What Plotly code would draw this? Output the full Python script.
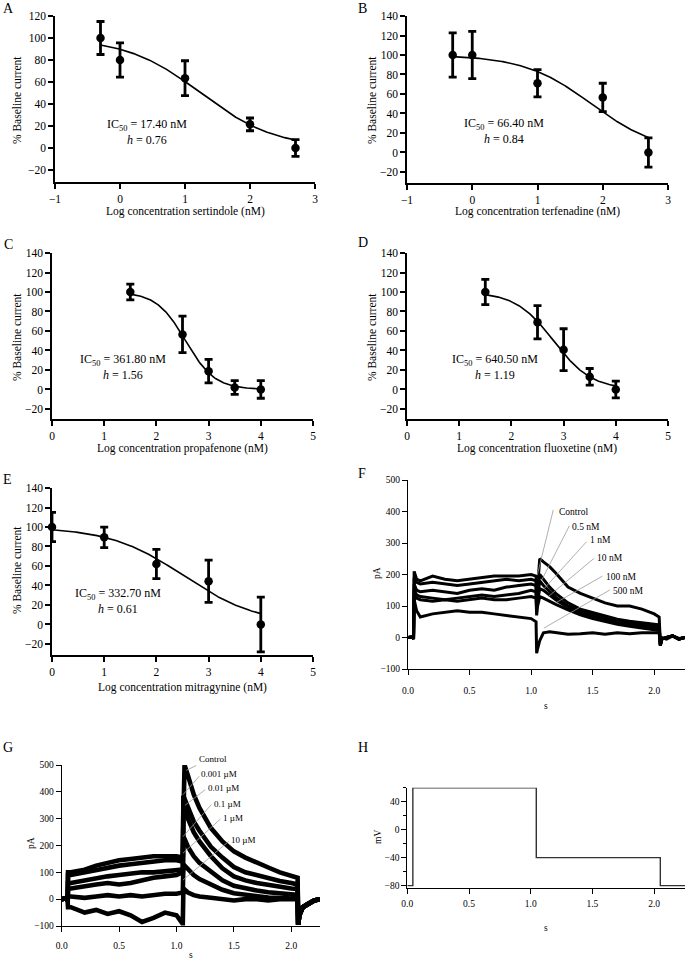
import numpy as np
import plotly.graph_objects as go

W, H = 685, 962

# ---------------- Dose-response data ----------------
A_x = [-0.3, 0, 1, 2, 2.7]
A_y = [100, 80, 63.5, 21.5, 0]
A_err = [15, 15.6, 15.8, 5.8, 7.6]
A_ic50, A_h = 17.40, 0.76

B_x = [-0.3, 0, 1, 2, 2.7]
B_y = [100, 100, 71, 56.5, 0]
B_err = [22.7, 24.2, 14, 14.5, 15]
B_ic50, B_h = 66.40, 0.84

C_x = [1.5, 2.5, 3, 3.5, 4]
C_y = [100, 56.5, 18.8, 2, 0]
C_err = [8, 18.7, 12, 7, 9]
C_ic50, C_h = 361.80, 1.56

D_x = [1.5, 2.5, 3, 3.5, 4]
D_y = [100, 69, 40.8, 13, 0]
D_err = [13, 17, 21.5, 8.5, 8.6]
D_ic50, D_h = 640.50, 1.19

E_x = [0, 1, 2, 3, 4]
E_y = [100, 89.4, 62, 44.4, 0]
E_err = [15, 10.5, 15, 21.7, 28]
E_ic50, E_h = 332.70, 0.61

drugs = ["sertindole", "terfenadine", "propafenone", "fluoxetine", "mitragynine"]

# ---------------- hERG current traces (F) ----------------
F_t = [0.0, 0.04, 0.045, 0.05, 0.07, 0.1, 0.2, 0.3, 0.4, 0.5, 0.6, 0.7, 0.8, 0.9, 1.0, 1.04,
       1.045, 1.05, 1.07, 1.1, 1.15, 1.2, 1.3, 1.4, 1.5, 1.6, 1.7, 1.8, 1.9, 2.0, 2.04,
       2.05, 2.06, 2.1, 2.15, 2.2, 2.25]
F_labels = ["Control", "0.5 nM", "1 nM", "10 nM", "100 nM", "500 nM"]
F_control = [0, 2, -5, 210, 185, 180, 195, 185, 180, 185, 190, 195, 195, 195, 200, 195,
             120, 150, 250, 240, 225, 205, 160, 140, 125, 110, 100, 100, 90, 75, 65,
             -20, 0, -5, 5, -3, 0]
F_05 = [0, 2, -5, 190, 175, 170, 175, 170, 165, 170, 175, 180, 185, 180, 185, 180,
        100, 130, 200, 185, 160, 140, 110, 90, 80, 68, 58, 52, 48, 42, 40,
        -25, -5, 0, 5, -5, 0]
F_1 = [0, 2, -5, 170, 150, 145, 150, 145, 140, 150, 155, 150, 160, 165, 170, 165,
       90, 120, 180, 165, 145, 128, 100, 85, 72, 62, 55, 48, 42, 38, 35,
       -25, -5, 0, 5, -5, 0]
F_10 = [0, 2, -5, 150, 135, 130, 125, 120, 125, 130, 135, 130, 135, 140, 150, 145,
        80, 110, 155, 150, 135, 120, 95, 78, 65, 55, 48, 42, 36, 30, 28,
        -25, -5, 0, 5, -5, 0]
F_100 = [0, 2, -5, 130, 125, 120, 115, 120, 115, 120, 125, 120, 120, 125, 130, 125,
         70, 95, 130, 125, 115, 105, 88, 72, 60, 50, 42, 36, 30, 25, 22,
         -25, -5, 0, 5, -5, 0]
F_500 = [0, 2, -5, 120, 85, 65, 75, 80, 85, 80, 80, 75, 70, 65, 60, 50,
         -50, -40, -10, 15, 18, 15, 10, 12, 15, 10, 15, 12, 15, 15, 15,
         -25, -5, 0, 5, -5, 0]
F_series = [F_control, F_05, F_1, F_10, F_100, F_500]

# ---------------- hERG current traces (G) ----------------
G_t = [0.0, 0.05, 0.052, 0.055, 0.08, 0.2, 0.3, 0.4, 0.5, 0.6, 0.7, 0.8, 0.9, 1.0, 1.05,
       1.055, 1.06, 1.07, 1.1, 1.15, 1.2, 1.3, 1.4, 1.5, 1.6, 1.7, 1.8, 1.9, 2.0, 2.055,
       2.06, 2.07, 2.1, 2.15, 2.2, 2.25]
G_labels = ["Control", "0.001 µM", "0.01 µM", "0.1 µM", "1 µM", "10 µM"]
G_control = [0, 5, -10, 100, 100, 110, 125, 135, 145, 150, 155, 160, 160, 160, 155,
             160, 300, 500, 460, 390, 340, 265, 215, 178, 155, 135, 118, 100, 88, 80,
             -95, -60, -30, -15, -5, 0]
G_0001 = [0, 5, -10, 90, 90, 100, 110, 120, 125, 130, 135, 140, 145, 145, 140,
          140, 385, 375, 340, 290, 255, 195, 155, 120, 100, 88, 78, 68, 60, 55,
          -95, -60, -30, -15, -5, 0]
G_001 = [0, 5, -10, 60, 60, 70, 80, 85, 90, 95, 100, 100, 105, 110, 110,
         110, 365, 350, 300, 250, 215, 160, 115, 85, 70, 60, 52, 45, 40, 38,
         -95, -60, -30, -15, -5, 0]
G_01 = [0, 5, -10, 40, 40, 50, 55, 60, 55, 60, 70, 80, 85, 90, 100,
        100, 230, 225, 195, 160, 135, 100, 70, 50, 40, 32, 26, 22, 18, 16,
        -95, -60, -30, -15, -5, 0]
G_1 = [0, 5, -10, 10, 10, 5, 10, 15, 10, 15, 10, 15, 20, 20, 25,
       25, 130, 125, 110, 90, 75, 55, 35, 22, 16, 10, 6, 4, 2, 2,
       -95, -60, -30, -15, -5, 0]
G_10 = [0, 5, -10, -30, -30, -50, -40, -55, -45, -60, -85, -70, -50, -60, -90,
        -90, 40, 35, 25, 15, 10, 5, 0, -5, 0, 0, -5, 0, 0, 0,
        -95, -60, -30, -15, -5, 0]
G_series = [G_control, G_0001, G_001, G_01, G_1, G_10]

# ---------------- Voltage protocol (H) ----------------
H_t = [0.0, 0.045, 1.045, 2.05, 2.25]
H_mv = [-80, 60, -40, -80, -80]

SERIF = "Liberation Serif, Times New Roman, serif"


def px_x(p):
    return p / W


def px_y(p):
    return 1 - p / H


def dom_x(a, b):
    return [px_x(a), px_x(b)]


def dom_y(top, bottom):
    return [px_y(bottom), px_y(top)]


fig = go.Figure()

# ---- dose-response panels ----
dr = [
    ("", A_x, A_y, A_err, A_ic50, A_h),
    ("2", B_x, B_y, B_err, B_ic50, B_h),
    ("3", C_x, C_y, C_err, C_ic50, C_h),
    ("4", D_x, D_y, D_err, D_ic50, D_h),
    ("5", E_x, E_y, E_err, E_ic50, E_h),
]
for suf, xs, ys, es, ic50, h in dr:
    xa, ya = "x" + suf, "y" + suf
    xc = np.linspace(min(xs), max(xs), 200)
    yc = 100.0 / (1.0 + 10 ** ((xc - np.log10(ic50)) * h))
    fig.add_trace(go.Scatter(x=xc, y=yc, mode="lines", xaxis=xa, yaxis=ya,
                             line=dict(color="black", width=1.6), showlegend=False,
                             hoverinfo="skip"))
    fig.add_trace(go.Scatter(x=xs, y=ys, mode="markers", xaxis=xa, yaxis=ya,
                             marker=dict(color="black", size=8.5),
                             error_y=dict(type="data", array=es, color="black",
                                          thickness=2.8, width=4),
                             cliponaxis=False, showlegend=False))

# ---- current traces F ----
for vals in F_series:
    fig.add_trace(go.Scatter(x=F_t, y=vals, mode="lines", xaxis="x6", yaxis="y6",
                             line=dict(color="black", width=3), showlegend=False))
# ---- current traces G ----
for vals in G_series:
    fig.add_trace(go.Scatter(x=G_t, y=vals, mode="lines", xaxis="x7", yaxis="y7",
                             line=dict(color="black", width=4.6), showlegend=False))
# ---- voltage protocol H ----
fig.add_trace(go.Scatter(x=H_t, y=H_mv, mode="lines", xaxis="x8", yaxis="y8",
                         line=dict(color="#333333", width=1.4, shape="hv"),
                         showlegend=False))

tickfont = dict(family=SERIF, size=11.5, color="black")
smallfont = dict(family=SERIF, size=9.5, color="black")


def dr_axes(xd, yd, xr, yr, xtv, ytv):
    xa = dict(domain=xd, range=xr, tickvals=xtv, showline=True, linecolor="black",
              linewidth=1.6, ticks="outside", ticklen=5, tickwidth=1.6,
              tickcolor="black", showgrid=False, zeroline=False, tickfont=tickfont,
              fixedrange=True, automargin=False)
    ya = dict(domain=yd, range=yr, tickvals=ytv, showline=True, linecolor="black",
              linewidth=1.6, ticks="outside", ticklen=5, tickwidth=1.6,
              tickcolor="black", showgrid=False, zeroline=False, tickfont=tickfont,
              fixedrange=True, automargin=False)
    return xa, ya


def tr_axes(xd, yd, yr, ytv, xstand):
    xa = dict(domain=xd, range=[0, 2.25], tickvals=[0, 0.5, 1, 1.5, 2],
              tickformat=".1f", showline=True, linecolor="black", linewidth=1,
              ticks="outside", ticklen=5, tickwidth=1, tickcolor="black",
              showgrid=False, zeroline=False, tickfont=smallfont,
              ticklabelstandoff=xstand, fixedrange=True, automargin=False)
    ya = dict(domain=yd, range=yr, tickvals=ytv, showline=True, linecolor="black",
              linewidth=1, ticks="outside", ticklen=5, tickwidth=1,
              tickcolor="black", showgrid=False, zeroline=False, tickfont=smallfont,
              fixedrange=True, automargin=False)
    return xa, ya


yt120 = list(range(-20, 121, 20))
yt140 = list(range(-20, 141, 20))
axes = {}
axes["xaxis"], axes["yaxis"] = dr_axes(dom_x(55, 315), dom_y(16, 182), [-1, 3],
                                       [-30.9, 120], [-1, 0, 1, 2, 3], yt120)
axes["xaxis2"], axes["yaxis2"] = dr_axes(dom_x(407, 668), dom_y(16, 183), [-1, 3],
                                         [-31.3, 140], [-1, 0, 1, 2, 3], yt140)
axes["xaxis3"], axes["yaxis3"] = dr_axes(dom_x(52, 313), dom_y(253, 419), [0, 5],
                                         [-30.3, 140], [0, 1, 2, 3, 4, 5], yt140)
axes["xaxis4"], axes["yaxis4"] = dr_axes(dom_x(407, 668), dom_y(253, 419), [0, 5],
                                         [-30.3, 140], [0, 1, 2, 3, 4, 5], yt140)
axes["xaxis5"], axes["yaxis5"] = dr_axes(dom_x(52, 313), dom_y(488, 655), [0, 5],
                                         [-31.3, 140], [0, 1, 2, 3, 4, 5], yt140)
ytF = list(range(-100, 501, 100))
axes["xaxis6"], axes["yaxis6"] = tr_axes(dom_x(408, 685), dom_y(480, 669), [-100, 500], ytF, 8)
axes["xaxis7"], axes["yaxis7"] = tr_axes(dom_x(61.7, 320), dom_y(765, 926), [-100, 500], ytF, 6)
axes["xaxis8"], axes["yaxis8"] = tr_axes(dom_x(407.3, 685), dom_y(787.7, 887.7), [-83, 60],
                                         [-80, -40, 0, 40], 2)
axes["yaxis8"]["minor"] = dict(tickvals=[-60, -20, 20, 60], ticks="outside", ticklen=3,
                               tickwidth=1, tickcolor="black")
for i in range(2, 9):
    axes["xaxis%d" % i]["anchor"] = "y%d" % i
    axes["yaxis%d" % i]["anchor"] = "x%d" % i
axes["xaxis"]["anchor"] = "y"
axes["yaxis"]["anchor"] = "x"

ann = []


def text_px(x, y, text, size=11.5, angle=0, xanchor="center"):
    ann.append(dict(x=px_x(x), y=px_y(y), xref="paper", yref="paper", text=text,
                    showarrow=False, xanchor=xanchor, yanchor="middle", textangle=angle,
                    font=dict(family=SERIF, size=size, color="black")))


# panel letters
for L, x, y in [("A", 1, 8), ("B", 356, 8), ("C", 2, 244), ("D", 356, 243),
                ("E", 1, 479), ("F", 356, 473), ("G", 1, 747), ("H", 356, 747)]:
    text_px(x, y, L, size=14, xanchor="left")

# x-axis titles
text_px(185, 211, "Log concentration " + drugs[0] + " (nM)")
text_px(537, 211, "Log concentration " + drugs[1] + " (nM)")
text_px(182, 448, "Log concentration " + drugs[2] + " (nM)")
text_px(537, 448, "Log concentration " + drugs[3] + " (nM)")
text_px(182, 687, "Log concentration " + drugs[4] + " (nM)")
# y-axis titles
for x, y in [(17, 100), (372, 100), (17, 337), (372, 337), (17, 570)]:
    text_px(x, y, "% Baseline current", angle=-90)
text_px(377, 573, "pA", size=9.5, angle=-90)
text_px(31, 843, "pA", size=9.5, angle=-90)
text_px(378, 837, "mV", size=9.5, angle=-90)
text_px(546, 706, "s", size=9.5)
text_px(191, 955, "s", size=9.5)
text_px(546, 928, "s", size=9.5)

# IC50 annotations
for (x, y), ic, h in [((147, 132), A_ic50, A_h), ((504, 131), B_ic50, B_h),
                      ((123, 367), C_ic50, C_h), ((495, 367), D_ic50, D_h),
                      ((118, 601), E_ic50, E_h)]:
    text_px(x, y, "IC<sub>50</sub> = %.2f nM<br><i>h</i> = %.2f" % (ic, h), size=12)

# trace labels and leader lines
F_text_pos = [(1.21, 399), (1.317, 350), (1.458, 310), (1.52, 251), (1.588, 193), (1.648, 148)]
F_lines = [((1.18, 405), (1.05, 198)), ((1.31, 354), (1.087, 183)), ((1.45, 304), (1.11, 157)),
           ((1.51, 251), (1.14, 130)), ((1.58, 195), (1.20, 110)), ((1.64, 151), (1.105, 30))]
G_text_px = [(196.7, 759), (199, 774.3), (205.7, 788.3), (211.7, 804), (221, 817.7),
             (229.3, 840)]
G_lines = [((1.172, 498), (1.085, 480)), ((1.198, 458), (1.056, 389)),
           ((1.25, 408), (1.075, 350)), ((1.303, 352), (1.056, 233)),
           ((1.381, 298), (1.056, 171)), ((1.454, 215), (1.056, 71))]
shapes = []
for lab, (x, y) in zip(F_labels, F_text_pos):
    ann.append(dict(x=x, y=y, xref="x6", yref="y6", text=lab, showarrow=False,
                    xanchor="left", yanchor="middle", font=smallfont))
for (a, b) in F_lines:
    shapes.append(dict(type="line", xref="x6", yref="y6", x0=a[0], y0=a[1], x1=b[0], y1=b[1],
                       line=dict(color="#9a9a9a", width=0.8)))
for lab, (x, y) in zip(G_labels, G_text_px):
    text_px(x, y, lab, size=9, xanchor="left")
for (a, b) in G_lines:
    shapes.append(dict(type="line", xref="x7", yref="y7", x0=a[0], y0=a[1], x1=b[0], y1=b[1],
                       line=dict(color="#9a9a9a", width=0.8)))

fig.update_layout(width=W, height=H, margin=dict(l=0, r=0, t=0, b=0),
                  paper_bgcolor="white", plot_bgcolor="white", showlegend=False,
                  annotations=ann, shapes=shapes, **axes)

fig.write_html("out.html", config={"displayModeBar": False},
               post_script="document.body.style.margin='0px';"
                           "document.body.style.overflow='hidden';")
